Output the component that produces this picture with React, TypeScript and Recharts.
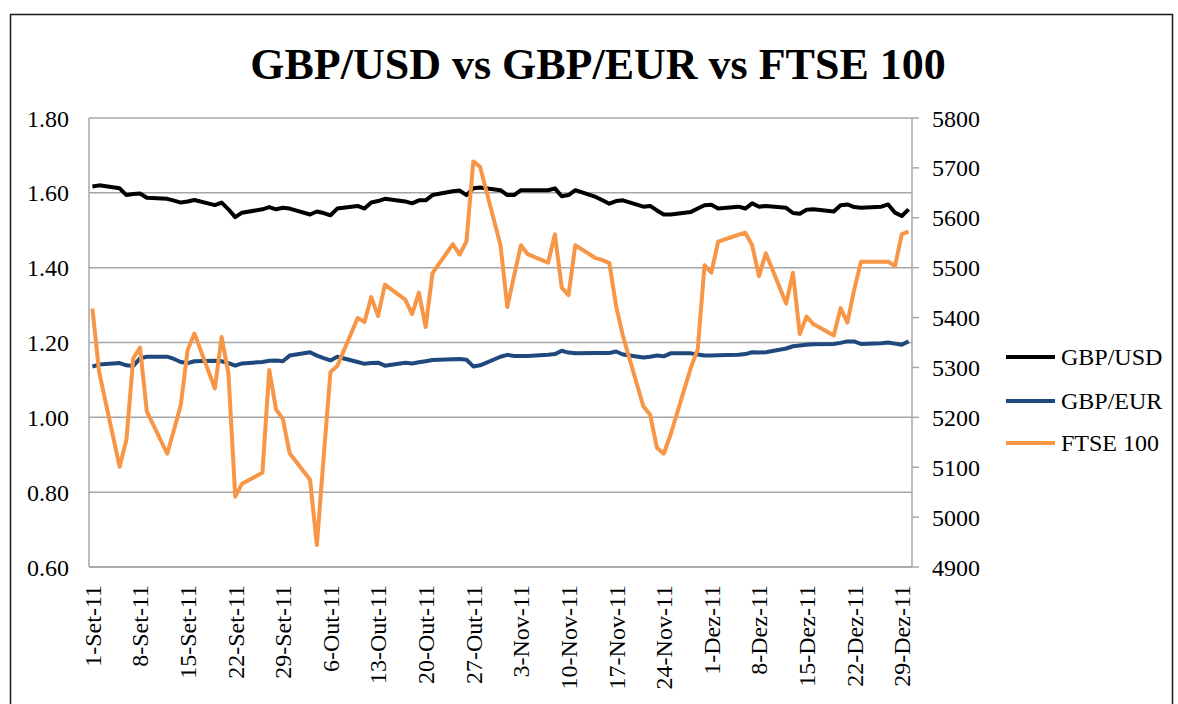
import React from 'react';
import { LineChart, Line, XAxis, YAxis, CartesianGrid } from 'recharts';

// day offsets from 1-Sep-2011 (weekdays, 1-Sep .. 30-Dec)
const dayOffsets = [
  0, 1, 4, 5, 6, 7, 8, 11, 12, 13, 14, 15, 18, 19, 20, 21, 22, 25, 26, 27, 28, 29,
  32, 33, 34, 35, 36, 39, 40, 41, 42, 43, 46, 47, 48, 49, 50, 53, 54, 55, 56, 57, 60,
  61, 62, 63, 64, 67, 68, 69, 70, 71, 74, 75, 76, 77, 78, 81, 82, 83, 84, 85, 88, 89, 90,
  91, 92, 95, 96, 97, 98, 99, 102, 103, 104, 105, 106, 109, 110, 111, 112, 113, 116, 117, 118, 119, 120,
];

const gbpUsd = [
  1.617, 1.620, 1.612, 1.594, 1.597, 1.598, 1.587, 1.584, 1.579, 1.574, 1.577, 1.581, 1.567, 1.574, 1.556, 1.535, 1.547, 1.556, 1.562, 1.556, 1.560, 1.558,
  1.542, 1.550, 1.546, 1.540, 1.558, 1.565, 1.558, 1.574, 1.578, 1.584, 1.577, 1.572, 1.580, 1.580, 1.594, 1.604, 1.606, 1.594, 1.612, 1.614, 1.607,
  1.594, 1.594, 1.607, 1.607, 1.607, 1.612, 1.591, 1.594, 1.607, 1.589, 1.580, 1.571, 1.578, 1.580, 1.563, 1.565, 1.553, 1.542, 1.542, 1.549, 1.558, 1.567,
  1.568, 1.558, 1.563, 1.558, 1.572, 1.563, 1.565, 1.560, 1.546, 1.544, 1.555, 1.556, 1.550, 1.567, 1.569, 1.562, 1.560, 1.563, 1.569, 1.547, 1.538, 1.556,
];

const gbpEur = [
  1.136, 1.141, 1.145, 1.139, 1.137, 1.158, 1.162, 1.162, 1.156, 1.148, 1.145, 1.150, 1.151, 1.150, 1.145, 1.138, 1.144, 1.148, 1.151, 1.152, 1.150, 1.165,
  1.174, 1.165, 1.158, 1.152, 1.162, 1.148, 1.143, 1.145, 1.146, 1.138, 1.146, 1.144, 1.147, 1.150, 1.153, 1.155, 1.156, 1.154, 1.136, 1.139, 1.162,
  1.167, 1.164, 1.164, 1.164, 1.167, 1.169, 1.178, 1.173, 1.171, 1.172, 1.172, 1.172, 1.176, 1.168, 1.160, 1.162, 1.165, 1.163, 1.171, 1.171, 1.168, 1.165,
  1.165, 1.166, 1.167, 1.169, 1.174, 1.173, 1.174, 1.184, 1.190, 1.192, 1.194, 1.195, 1.196, 1.199, 1.203, 1.203, 1.196, 1.198, 1.200, 1.197, 1.194, 1.203,
];

const ftse100 = [
  5418, 5290, 5101, 5155, 5318, 5340, 5212, 5127, 5175, 5225, 5335, 5368, 5258, 5361, 5288, 5041, 5067, 5089, 5295, 5216, 5197, 5128,
  5075, 4944, 5120, 5291, 5303, 5399, 5391, 5441, 5403, 5466, 5436, 5407, 5450, 5381, 5489, 5547, 5526, 5553, 5713, 5702, 5545,
  5421, 5484, 5545, 5527, 5510, 5567, 5460, 5445, 5545, 5519, 5515, 5509, 5423, 5363, 5222, 5205, 5139, 5127, 5165, 5300, 5337, 5505,
  5490, 5552, 5566, 5570, 5545, 5483, 5529, 5428, 5490, 5367, 5402, 5387, 5364, 5419, 5390, 5456, 5512, 5512, 5512, 5503, 5567, 5572,
];

const tickDays = [0, 7, 14, 21, 28, 35, 42, 49, 56, 63, 70, 77, 84, 91, 98, 105, 112, 119];
const tickLabels = [
  '1-Set-11', '8-Set-11', '15-Set-11', '22-Set-11', '29-Set-11',
  '6-Out-11', '13-Out-11', '20-Out-11', '27-Out-11',
  '3-Nov-11', '10-Nov-11', '17-Nov-11', '24-Nov-11',
  '1-Dez-11', '8-Dez-11', '15-Dez-11', '22-Dez-11', '29-Dez-11',
];

const leftTicks = [0.6, 0.8, 1.0, 1.2, 1.4, 1.6, 1.8];
const rightTicks = [4900, 5000, 5100, 5200, 5300, 5400, 5500, 5600, 5700, 5800];

const seriesNames = ['GBP/USD', 'GBP/EUR', 'FTSE 100'];
const seriesColors = ['#000000', '#1F497D', '#F79646'];

const data = dayOffsets.map((d, i) => ({
  day: d,
  usd: gbpUsd[i],
  eur: gbpEur[i],
  ftse: ftse100[i],
}));

const FONT = "'Liberation Serif', 'Times New Roman', serif";
const GRID = '#A6A6A6';

const XTick = (props: any) => {
  const { x, y, payload } = props;
  const idx = tickDays.indexOf(payload.value);
  const label = idx >= 0 ? tickLabels[idx] : '';
  return (
    <text
      x={x}
      y={y}
      transform={`rotate(-90 ${x} ${y})`}
      textAnchor="end"
      dy="0.35em"
      fontSize={24}
      fontFamily={FONT}
      fill="#000"
    >
      {label}
    </text>
  );
};

export default function App() {
  const legendY = [357, 401, 443];
  return (
    <div style={{ position: 'absolute', left: 0, top: 0, width: 1178, height: 704, background: '#fff' }}>
      <LineChart
        width={1178}
        height={704}
        data={data}
        margin={{ top: 118, right: 166, left: 0, bottom: 0 }}
        style={{ position: 'absolute', left: 0, top: 0 }}
      >
        <CartesianGrid yAxisId="left" vertical={false} stroke={GRID} strokeWidth={1.5} />
        <XAxis
          dataKey="day"
          type="number"
          domain={[-0.5, 120.5]}
          ticks={tickDays}
          interval={0}
          height={137}
          tickLine={false}
          tickSize={0}
          tickMargin={18}
          axisLine={{ stroke: GRID, strokeWidth: 1.5 }}
          tick={<XTick />}
        />
        <YAxis
          yAxisId="left"
          orientation="left"
          domain={[0.6, 1.8]}
          ticks={leftTicks}
          interval={0}
          width={89}
          tickLine={false}
          tickSize={0}
          tickMargin={20}
          axisLine={{ stroke: GRID, strokeWidth: 1.5 }}
          tickFormatter={(v: number) => v.toFixed(2)}
          tick={{ fontSize: 24, fontFamily: FONT, fill: '#000' }}
        />
        <YAxis
          yAxisId="right"
          orientation="right"
          domain={[4900, 5800]}
          ticks={rightTicks}
          interval={0}
          width={100}
          tickLine={{ stroke: GRID, strokeWidth: 1.5 }}
          tickSize={7}
          tickMargin={13}
          axisLine={{ stroke: GRID, strokeWidth: 1.5 }}
          tick={{ fontSize: 24, fontFamily: FONT, fill: '#000' }}
        />
        <Line yAxisId="left" type="linear" dataKey="usd" name={seriesNames[0]} stroke={seriesColors[0]} strokeWidth={4} dot={false} isAnimationActive={false} strokeLinejoin="round" />
        <Line yAxisId="left" type="linear" dataKey="eur" name={seriesNames[1]} stroke={seriesColors[1]} strokeWidth={4} dot={false} isAnimationActive={false} strokeLinejoin="round" />
        <Line yAxisId="right" type="linear" dataKey="ftse" name={seriesNames[2]} stroke={seriesColors[2]} strokeWidth={4} dot={false} isAnimationActive={false} strokeLinejoin="round" />
      </LineChart>
      <svg width={1178} height={704} style={{ position: 'absolute', left: 0, top: 0, pointerEvents: 'none' }}>
        <rect x={10.5} y={14.5} width={1162} height={700} fill="none" stroke="#1a1a1a" strokeWidth={1.5} />
        <text x={598} y={79} textAnchor="middle" fontSize={44} fontWeight="bold" fontFamily={FONT} fill="#000">
          GBP/USD vs GBP/EUR vs FTSE 100
        </text>
        {seriesNames.map((n, i) => (
          <g key={n}>
            <line x1={1006} x2={1055} y1={legendY[i]} y2={legendY[i]} stroke={seriesColors[i]} strokeWidth={4} />
            <text x={1061} y={legendY[i] + 8} fontSize={24} fontFamily={FONT} fill="#000">
              {n}
            </text>
          </g>
        ))}
      </svg>
    </div>
  );
}
